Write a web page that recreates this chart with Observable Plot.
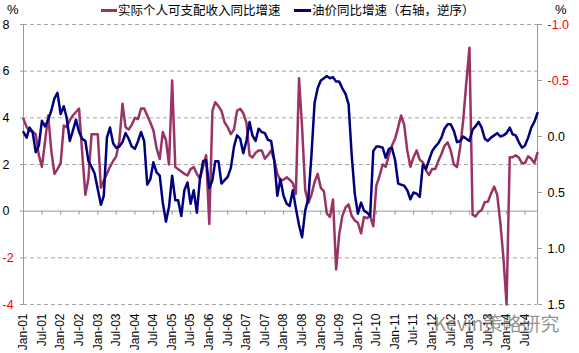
<!DOCTYPE html>
<html><head><meta charset="utf-8">
<script src="https://cdn.jsdelivr.net/npm/d3@7"></script>
<script src="https://cdn.jsdelivr.net/npm/@observablehq/plot@0.6"></script>
<style>
body{margin:0;background:#fff;}
#wrap{position:relative;width:579px;height:353px;overflow:hidden;font-family:"Liberation Sans",Arial,sans-serif;}
#wrap svg{position:absolute;left:0;top:0;}
.ov{position:absolute;white-space:nowrap;line-height:14px;}
.cjk{font-family:"Noto Sans CJK SC",sans-serif;font-size:12.5px;color:#000;}
.sw{position:absolute;height:3px;}
</style></head><body><div id="wrap"></div>
<script>
// Monthly data, Jan-2001 .. Nov-2014
const startMonth = "2001-01-01";
const seriesNames = ["实际个人可支配收入同比增速", "油价同比增速（右轴，逆序）"];
// Real disposable personal income, YoY % (left axis)
const income = [
3.95,3.6,3.45,3.4,3.3,2.4,1.9,3.0,4.1,2.6,
1.6,1.8,2.05,3.67,3.6,3.9,4.1,4.25,4.4,2.5,
0.7,1.4,3.3,3.3,3.3,1.0,1.3,1.6,1.9,2.15,
2.35,3.0,4.6,3.6,3.5,3.7,4.0,3.95,4.4,4.4,
4.1,3.8,3.46,2.7,2.24,3.39,3.05,2.0,5.6,1.89,
1.8,1.7,1.6,1.53,1.8,1.89,1.6,1.4,1.9,2.4,
-0.55,4.3,4.67,4.5,4.3,3.8,3.6,3.3,3.5,4.3,
4.39,4.2,3.8,2.4,2.3,2.5,2.6,2.6,2.25,2.4,
2.6,2.2,1.6,1.31,1.35,1.45,1.35,1.2,0.74,5.7,
3.6,0.9,0.35,0.7,1.25,1.6,1.0,0.85,-0.1,-0.25,
0.5,-2.5,-1.0,-0.2,0.15,0.29,-0.2,-0.4,-0.5,-0.95,
-0.25,-0.3,-0.2,-0.65,1.1,1.5,2.0,1.9,2.4,2.8,
3.1,3.6,4.1,3.7,2.6,1.9,2.31,2.6,2.2,2.1,
1.75,1.55,1.81,1.81,2.15,2.45,2.8,2.95,2.6,2.0,
1.89,2.7,3.9,5.5,7.0,-0.15,-0.23,-0.04,0.05,0.39,
0.4,0.75,1.05,0.7,-0.5,-2.0,-4.0,2.31,2.31,2.39,
2.3,2.06,2.06,2.35,2.25,2.06,2.5];
// Oil price, YoY (right axis, reversed)
const oil = [
-0.04,0.01,-0.08,-0.04,0.14,0.08,-0.14,-0.09,-0.15,-0.23,
-0.34,-0.39,-0.20,-0.27,-0.17,0.04,-0.05,-0.15,-0.04,0.02,
0.04,0.22,0.27,0.33,0.47,0.61,0.53,0.01,-0.08,0.06,
0.10,0.09,0.05,-0.03,0.02,0.09,0.11,0.04,-0.04,0.04,
0.43,0.38,0.23,0.32,0.35,0.59,0.76,0.63,0.35,0.57,
0.57,0.71,0.48,0.41,0.60,0.48,0.68,0.38,0.22,0.21,
0.46,0.39,0.22,0.22,0.42,0.39,0.36,0.28,0.09,-0.01,
0.02,0.15,0.04,-0.13,-0.01,0.04,-0.07,-0.04,-0.03,0.03,
0.04,0.21,0.53,0.38,0.53,0.60,0.62,0.48,0.64,0.79,
0.90,0.66,0.55,0.17,-0.30,-0.43,-0.50,-0.52,-0.54,-0.52,
-0.53,-0.49,-0.49,-0.43,-0.38,-0.29,0.17,0.51,0.69,0.59,
0.66,0.68,0.71,0.13,0.09,0.09,0.10,0.19,0.11,0.10,
0.21,0.42,0.43,0.44,0.48,0.56,0.50,0.51,0.54,0.25,
0.29,0.21,0.13,0.09,0.06,0.01,-0.07,-0.11,-0.11,-0.05,
0.05,0.04,0.00,0.02,0.04,-0.06,-0.09,-0.13,-0.08,0.02,
0.04,0.01,-0.01,-0.03,0.00,-0.01,-0.03,-0.08,-0.02,-0.01,
0.05,0.10,0.08,0.01,-0.08,-0.13,-0.21];
const leftTicks = [-4, -2, 0, 2, 4, 6, 8];
const rightTicks = [-1.0, -0.5, 0.0, 0.5, 1.0, 1.5];
const xTickStepMonths = 6;

const start = new Date(startMonth + "T00:00:00Z");
const dates = income.map((_, i) => d3.utcMonth.offset(start, i));
const end = dates[dates.length - 1];
const xTicks = d3.utcMonth.every(xTickStepMonths).range(start, d3.utcMonth.offset(end, 1));

// right (reversed) axis r in [-1, 1.5] maps onto left domain [8, -4]
const rDom = [rightTicks[0], rightTicks[rightTicks.length - 1]];
const lDom = [leftTicks[leftTicks.length - 1], leftTicks[0]];
const toL = r => lDom[0] + (r - rDom[0]) * (lDom[1] - lDom[0]) / (rDom[1] - rDom[0]);
const fromL = L => rDom[0] + (L - lDom[0]) * (rDom[1] - rDom[0]) / (lDom[1] - lDom[0]);
const fmtR = L => { let v = Math.round(fromL(L) * 10) / 10; if (Math.abs(v) < 1e-9) v = 0; return v.toFixed(1); };

const incRows = income.map((v, i) => ({date: dates[i], v}));
const oilRows = oil.map((r, i) => ({date: dates[i], v: toL(r)}));

const gray = "#9a9a9a";
const chart = Plot.plot({
  width: 579, height: 353,
  marginLeft: 23, marginRight: 42, marginTop: 24, marginBottom: 49,
  style: {fontFamily: '"Liberation Sans", Arial, sans-serif', fontSize: "12.5px", color: "#000", background: "transparent", overflow: "visible"},
  x: {type: "utc", domain: [start, end]},
  y: {domain: [leftTicks[0], leftTicks[leftTicks.length - 1]]},
  marks: [
    Plot.gridY(leftTicks.filter(d => d !== 0), {stroke: "#a6a6a6", strokeOpacity: 1, strokeDasharray: "4,3"}),
    Plot.ruleY([0], {stroke: gray}),
    Plot.ruleX(xTicks, {x: d => d, y1: 0, y2: -0.17, stroke: gray}),
    Plot.ruleX([start], {stroke: gray}),
    Plot.ruleX([end], {stroke: gray}),
    Plot.axisY(leftTicks.filter(d => d >= 0), {anchor: "left", label: null, tickSize: 3, tickPadding: 18, textAnchor: "start", stroke: gray, fill: "#000", tickFormat: d => String(d)}),
    Plot.axisY(leftTicks.filter(d => d < 0), {anchor: "left", label: null, tickSize: 3, tickPadding: 18, textAnchor: "start", stroke: gray, fill: "#ff0000", tickFormat: d => String(d)}),
    Plot.axisY(rightTicks.filter(r => r >= 0).map(toL), {anchor: "right", label: null, tickSize: 4, tickPadding: 6, stroke: gray, fill: "#000", tickFormat: fmtR}),
    Plot.axisY(rightTicks.filter(r => r < 0).map(toL), {anchor: "right", label: null, tickSize: 4, tickPadding: 6, stroke: gray, fill: "#ff0000", tickFormat: fmtR}),
    Plot.axisX(xTicks, {anchor: "bottom", label: null, tickSize: 0, tickPadding: 9, tickRotate: -90, fontSize: 12, tickFormat: d3.utcFormat("%b-%y")}),
    Plot.line(incRows, {x: "date", y: "v", stroke: "#993366", strokeWidth: 2.5}),
    Plot.line(oilRows, {x: "date", y: "v", stroke: "#00007f", strokeWidth: 2.5})
  ]
});
const wrap = document.getElementById("wrap");
wrap.appendChild(chart);

function add(html, css, cls) {
  const d = document.createElement("div");
  d.className = cls || "ov";
  d.innerHTML = html;
  Object.assign(d.style, css);
  wrap.appendChild(d);
  return d;
}
add("%", {left: "7px", top: "3px", fontSize: "13px"});
add("%", {left: "555px", top: "3px", fontSize: "13px"});
add("", {left: "101px", top: "9px", width: "16px", background: "#993366"}, "sw");
add(seriesNames[0], {left: "118px", top: "3px"}, "ov cjk");
add("", {left: "294px", top: "9px", width: "17px", background: "#00007f"}, "sw");
add(seriesNames[1], {left: "312px", top: "3px"}, "ov cjk");
add("Kevin策略研究", {left: "434px", top: "312px", fontSize: "19px", lineHeight: "22px", color: "rgba(110,110,110,0.75)", fontFamily: '"Noto Sans CJK SC", sans-serif'});
</script></body></html>
